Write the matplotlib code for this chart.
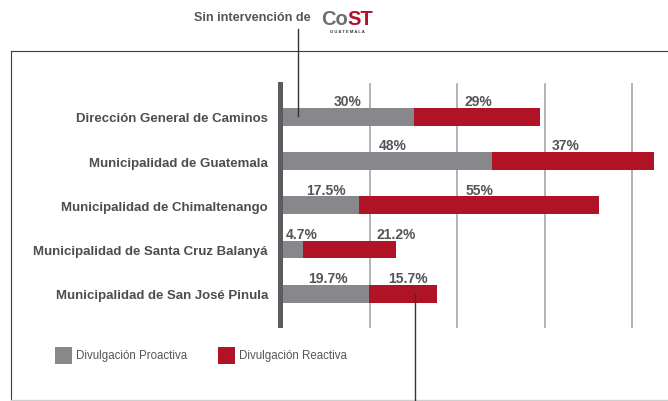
import matplotlib
matplotlib.use("Agg")
import matplotlib.pyplot as plt
from matplotlib.lines import Line2D
from matplotlib.patches import Rectangle
import matplotlib.transforms as mtransforms

plt.rcParams['font.family'] = ['Liberation Sans', 'DejaVu Sans']

# ---- data ----
categories = [
    "Dirección General de Caminos",
    "Municipalidad de Guatemala",
    "Municipalidad de Chimaltenango",
    "Municipalidad de Santa Cruz Balanyá",
    "Municipalidad de San José Pinula",
]
proactiva = [30, 48, 17.5, 4.7, 19.7]
reactiva = [29, 37, 55, 21.2, 15.7]
series_names = ["Divulgación Proactiva", "Divulgación Reactiva"]
gridlines = [20, 40, 60, 80]

# ---- style ----
W, H = 668, 402
GREY = "#88878c"
RED = "#b01226"
TXT = "#555555"
# label nudges in pixels (styling only)
nudge_pro = [-1, 5, 5, 8, 2]
nudge_rea = [1, -7, 0, 46, 5]

fig = plt.figure(figsize=(W / 100, H / 100), dpi=100)

def fx(px):
    return px / W

def fy(py):
    return 1 - py / H

# axes placement (pixels)
ax_l, ax_r, ax_t, ax_b = 278.3, 668, 83, 329
zero_px, px_per = 283, 4.36
ax = fig.add_axes([fx(ax_l), fy(ax_b), fx(ax_r - ax_l), (ax_b - ax_t) / H])
ax.set_xlim(-(zero_px - ax_l) / px_per, (ax_r - zero_px) / px_per)
c0, step = 117.8, 44.25
ax.set_ylim(4 + (ax_b - (c0 + 4 * step)) / step, -(c0 - ax_t) / step)
for s in ax.spines.values():
    s.set_visible(False)
ax.set_xticks([])
ypos = list(range(len(categories)))
ax.set_yticks(ypos)
ax.set_yticklabels(categories, fontsize=9.5, fontweight="bold", color="#4d4d4d")
ax.tick_params(axis="y", length=0, pad=7.4)
ax.patch.set_alpha(0)

# gridlines
for g in gridlines:
    ax.axvline(g, ymin=0, ymax=(ax_b - 85) / (ax_b - ax_t), color="#a6a6a6", lw=1.2, zorder=1)

# axis bar
trans = mtransforms.blended_transform_factory(ax.transData, ax.transAxes)
ax.add_patch(Rectangle((ax.get_xlim()[0], 0), -ax.get_xlim()[0], 1, transform=trans,
                       facecolor="#5c5c60", edgecolor="none", zorder=3))

bh = 0.4
ax.barh(ypos, proactiva, height=bh, color=GREY, zorder=2, label=series_names[0])
ax.barh(ypos, reactiva, left=proactiva, height=bh, color=RED, zorder=2, label=series_names[1])

for i in ypos:
    p, r = proactiva[i], reactiva[i]
    for cx, v, dx in ((p / 2, p, nudge_pro[i]), (p + r / 2, r, nudge_rea[i])):
        ax.annotate(f"{v:g}%", xy=(cx, i - bh / 2), xytext=(dx * 0.72, 2.0),
                    textcoords="offset points", ha="center", va="baseline",
                    fontsize=10, fontweight="bold", color=TXT, zorder=4)

# frame
fig.add_artist(Line2D([fx(11), fx(668)], [fy(52), fy(52)], color="#3c3c3c", lw=0.8))
fig.add_artist(Line2D([fx(11), fx(11)], [fy(52), fy(402)], color="#3c3c3c", lw=0.8))
fig.add_artist(Line2D([fx(11), fx(668)], [fy(401), fy(401)], color="#cfcfcf", lw=1.0))

# pointer lines
fig.add_artist(Line2D([fx(298), fx(298)], [fy(30), fy(117)], color="#3a302e", lw=1.0, zorder=5))
fig.add_artist(Line2D([fx(415), fx(415)], [fy(295), fy(402)], color="#3a302e", lw=1.0, zorder=5))

# header
fig.text(fx(194), fy(18), "Sin intervención de", fontsize=9.1, fontweight="bold",
         color=TXT, ha="left", va="center")
fig.text(fx(321), fy(29.3), "Co", fontsize=14.5, fontweight="bold", color="#6e6e70",
         ha="left", va="bottom")
fig.text(fx(347.5), fy(29.3), "ST", fontsize=14.5, fontweight="bold", color=RED,
         ha="left", va="bottom")
fig.text(fx(347.5), fy(29.6), "G U A T E M A L A", fontsize=3.0, fontweight="bold",
         color="#333333", ha="center", va="top")

# legend
for (x0, col, name) in ((55, GREY, series_names[0]), (218, RED, series_names[1])):
    fig.add_artist(Rectangle((fx(x0), fy(365)), fx(16.5), 17 / H, facecolor=col,
                             edgecolor="none", transform=fig.transFigure))
    fig.text(fx(x0 + 21), fy(356), name, fontsize=8.3, color=TXT, ha="left", va="center")

fig.savefig("out.png", dpi=100)
